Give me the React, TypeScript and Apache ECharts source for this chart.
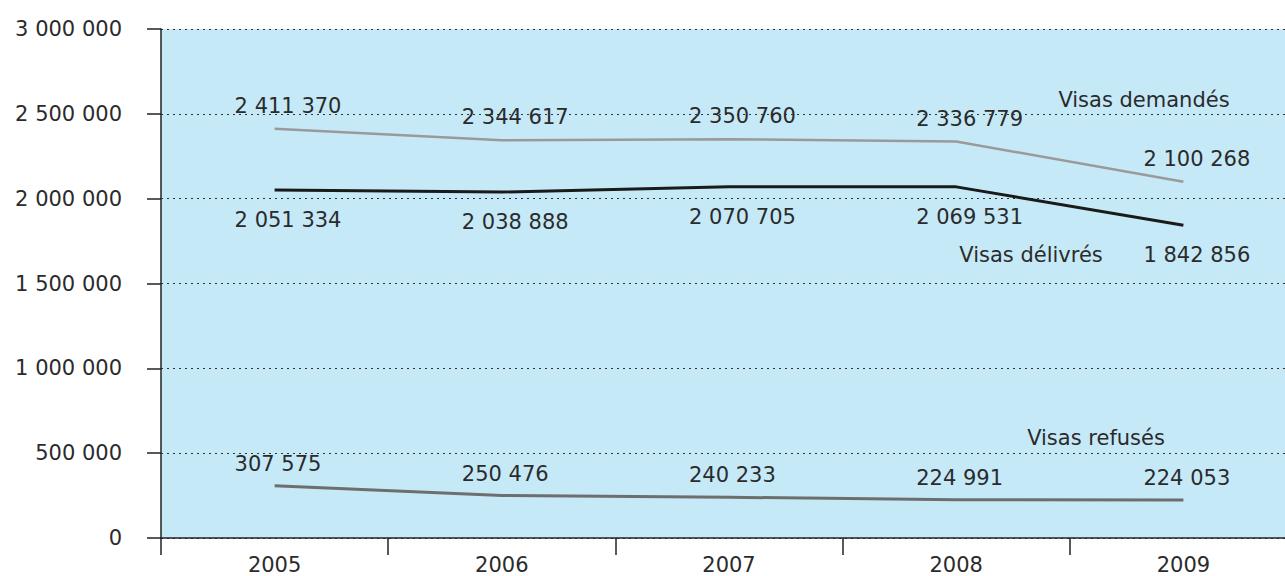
import React, { useEffect, useRef } from "react";
import * as echarts from "echarts";

const years = ["2005", "2006", "2007", "2008", "2009"];
const visasDemandes = [2411370, 2344617, 2350760, 2336779, 2100268];
const visasDelivres = [2051334, 2038888, 2070705, 2069531, 1842856];
const visasRefuses = [307575, 250476, 240233, 224991, 224053];
const seriesNames = ["Visas demandés", "Visas délivrés", "Visas refusés"];

const FONT = "DejaVu Sans";
const TXT = "#2b2b2b";
const FS = 21;

const fmt = (v: number) =>
  String(Math.round(v)).replace(/\B(?=(\d{3})+(?!\d))/g, " ");

export default function App() {
  const ref = useRef<HTMLDivElement>(null);
  useEffect(() => {
    if (!ref.current) return;
    const chart = echarts.init(ref.current, null, { renderer: "svg" });
    const mkLabel = (dy: number) => ({
      show: true,
      position: "inside",
      align: "left",
      verticalAlign: "middle",
      offset: [-40, dy],
      formatter: (p: any) => fmt(p.value),
      fontFamily: FONT,
      fontSize: FS,
      color: TXT,
    });
    const nameText = (text: string, cx: number, cy: number) => ({
      type: "text",
      x: cx,
      y: cy,
      style: {
        text,
        font: `${FS}px "${FONT}"`,
        fill: TXT,
        align: "center",
        verticalAlign: "middle",
      },
    });
    chart.setOption({
      animation: false,
      backgroundColor: "#ffffff",
      grid: {
        left: 161,
        right: 0,
        top: 29,
        bottom: 38,
        show: true,
        backgroundColor: "#c6e9f8",
        borderWidth: 0,
      },
      xAxis: {
        type: "category",
        data: years,
        boundaryGap: true,
        axisLine: { show: true, lineStyle: { color: "#222", width: 1.5 } },
        axisTick: {
          show: true,
          alignWithLabel: false,
          inside: false,
          length: 17,
          lineStyle: { color: "#222", width: 1.5 },
        },
        axisLabel: {
          fontFamily: FONT,
          fontSize: FS,
          color: TXT,
          margin: 16,
        },
        splitLine: { show: false },
      },
      yAxis: {
        type: "value",
        min: 0,
        max: 3000000,
        interval: 500000,
        axisLine: { show: true, lineStyle: { color: "#222", width: 1.5 } },
        axisTick: { show: true, length: 14, lineStyle: { color: "#222", width: 1.5 } },
        axisLabel: {
          fontFamily: FONT,
          fontSize: FS,
          color: TXT,
          margin: 39,
          formatter: (v: number) => fmt(v),
        },
        splitLine: {
          show: true,
          lineStyle: { color: "#333", width: 1, type: [2, 4] },
        },
      },
      series: [
        {
          name: seriesNames[0],
          type: "line",
          data: visasDemandes,
          symbol: "circle",
          symbolSize: 0,
          lineStyle: { color: "#9a9a9a", width: 2.5 },
          itemStyle: { color: "#9a9a9a" },
          label: mkLabel(-23),
          z: 3,
        },
        {
          name: seriesNames[1],
          type: "line",
          data: visasDelivres,
          symbol: "circle",
          symbolSize: 0,
          lineStyle: { color: "#1a1a1a", width: 3 },
          itemStyle: { color: "#1a1a1a" },
          label: mkLabel(30),
          z: 3,
        },
        {
          name: seriesNames[2],
          type: "line",
          data: visasRefuses,
          symbol: "circle",
          symbolSize: 0,
          lineStyle: { color: "#6e6e6e", width: 3 },
          itemStyle: { color: "#6e6e6e" },
          label: mkLabel(-22),
          z: 3,
        },
      ],
      graphic: [
        nameText(seriesNames[0], 1144, 100),
        nameText(seriesNames[1], 1031, 255),
        nameText(seriesNames[2], 1096, 438),
      ],
    });
    return () => chart.dispose();
  }, []);
  return (
    <div
      style={{
        position: "fixed",
        left: 0,
        top: 0,
        width: 1285,
        height: 576,
        overflow: "hidden",
      }}
    >
      <div ref={ref} style={{ width: 1297, height: 576 }} />
    </div>
  );
}
